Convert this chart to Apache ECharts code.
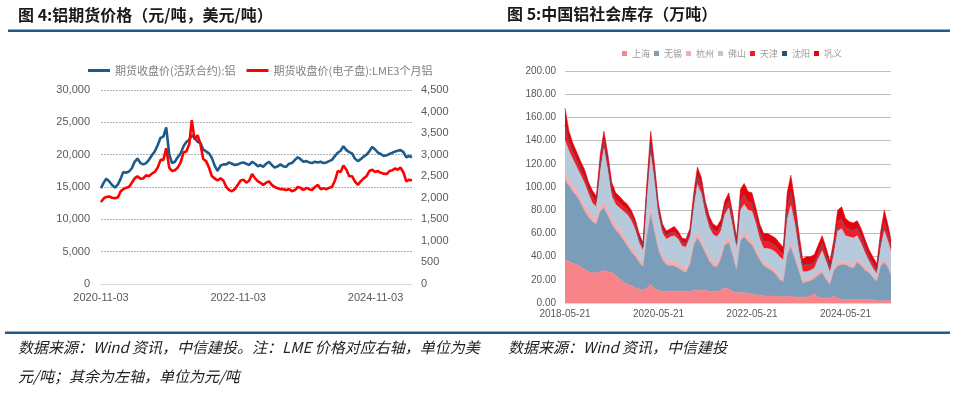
<!DOCTYPE html>
<html><head><meta charset="utf-8">
<script src="https://cdn.jsdelivr.net/npm/echarts@6/dist/echarts.min.js"></script>
<style>html,body{margin:0;padding:0;background:#fff}#c{width:960px;height:393px}</style>
</head><body><div id="c"></div>
<script>
// ---------- Figure 4: aluminium futures prices ----------
const priceDates = ['2020-11-03','2020-11-16','2020-12-01','2020-12-16',
'2021-01-01','2021-01-16','2021-02-01','2021-02-16','2021-03-01','2021-03-16','2021-04-01','2021-04-16','2021-05-01','2021-05-16','2021-06-01','2021-06-16','2021-07-01','2021-07-16','2021-08-01','2021-08-16','2021-09-01','2021-09-16','2021-10-01','2021-10-16','2021-11-01','2021-11-16','2021-12-01','2021-12-16',
'2022-01-01','2022-01-16','2022-02-01','2022-02-16','2022-03-01','2022-03-16','2022-04-01','2022-04-16','2022-05-01','2022-05-16','2022-06-01','2022-06-16','2022-07-01','2022-07-16','2022-08-01','2022-08-16','2022-09-01','2022-09-16','2022-10-01','2022-10-16','2022-11-01','2022-11-16','2022-12-01','2022-12-16',
'2023-01-01','2023-01-16','2023-02-01','2023-02-16','2023-03-01','2023-03-16','2023-04-01','2023-04-16','2023-05-01','2023-05-16','2023-06-01','2023-06-16','2023-07-01','2023-07-16','2023-08-01','2023-08-16','2023-09-01','2023-09-16','2023-10-01','2023-10-16','2023-11-01','2023-11-16','2023-12-01','2023-12-16',
'2024-01-01','2024-01-16','2024-02-01','2024-02-16','2024-03-01','2024-03-16','2024-04-01','2024-04-16','2024-05-01','2024-05-16','2024-06-01','2024-06-16','2024-07-01','2024-07-16','2024-08-01','2024-08-16','2024-09-01','2024-09-16','2024-10-01','2024-10-16','2024-11-01','2024-11-16','2024-12-01','2024-12-16',
'2025-01-01','2025-01-16','2025-02-01','2025-02-16','2025-03-01','2025-03-16','2025-04-01','2025-04-16','2025-05-01','2025-05-16'];
const shfeAl = [14800,15600,16300,15900,
15300,14900,15400,16300,17300,17200,17400,17900,18900,19400,18700,18500,18700,19200,19900,20500,21500,22600,22800,24200,20100,18700,18900,19600,
20200,21300,22000,22300,23000,22600,22000,21800,20800,20500,20200,19500,18300,17500,18300,18500,18500,18800,18600,18400,18500,18700,18800,18600,
18400,18900,18600,18200,18400,18100,18600,18900,18400,18000,18200,18500,18200,18100,18600,18700,19200,19600,19300,18900,19000,18800,18700,18900,
18800,18900,18700,18800,19000,19200,19800,20300,20600,21300,20700,20400,20200,19400,19000,19300,19700,20000,20500,21200,20800,20300,20100,19800,
19900,20100,20300,20500,20600,20700,20400,19600,19800,19600];
const lmeAl = [1900,1980,2020,2030,
2000,1990,2010,2150,2200,2230,2250,2350,2450,2500,2440,2450,2520,2500,2560,2600,2700,2880,2880,3150,2700,2620,2640,2700,
2820,3050,3080,3250,3800,3350,3450,3250,2900,2850,2700,2500,2450,2400,2450,2400,2250,2180,2150,2200,2300,2400,2420,2350,
2400,2550,2450,2380,2350,2300,2350,2380,2300,2250,2220,2200,2200,2180,2200,2150,2180,2250,2230,2180,2230,2200,2180,2250,
2300,2200,2220,2200,2230,2250,2400,2620,2600,2750,2650,2500,2500,2380,2300,2380,2450,2500,2620,2650,2600,2620,2580,2560,
2550,2620,2640,2680,2650,2700,2580,2380,2420,2400];
const priceTickDates = ['2020-11-03','2022-11-03','2024-11-03'];
const priceNames = ['期货收盘价(活跃合约):铝','期货收盘价(电子盘):LME3个月铝'];

// ---------- Figure 5: China aluminium social inventory ----------
const stockDates = ['2018-05-21','2018-06-21','2018-07-21','2018-08-21','2018-09-21','2018-10-21','2018-11-21','2018-12-21',
'2019-01-21','2019-02-21','2019-03-21','2019-04-21','2019-05-21','2019-06-21','2019-07-21','2019-08-21','2019-09-21','2019-10-21','2019-11-21','2019-12-21',
'2020-01-21','2020-02-21','2020-03-21','2020-04-21','2020-05-21','2020-06-21','2020-07-21','2020-08-21','2020-09-21','2020-10-21','2020-11-21','2020-12-21',
'2021-01-21','2021-02-21','2021-03-21','2021-04-21','2021-05-21','2021-06-21','2021-07-21','2021-08-21','2021-09-21','2021-10-21','2021-11-21','2021-12-21',
'2022-01-21','2022-02-21','2022-03-21','2022-04-21','2022-05-21','2022-06-21','2022-07-21','2022-08-21','2022-09-21','2022-10-21','2022-11-21','2022-12-21',
'2023-01-21','2023-02-21','2023-03-21','2023-04-21','2023-05-21','2023-06-21','2023-07-21','2023-08-21','2023-09-21','2023-10-21','2023-11-21','2023-12-21',
'2024-01-21','2024-02-21','2024-03-21','2024-04-21','2024-05-21','2024-06-21','2024-07-21','2024-08-21','2024-09-21','2024-10-21','2024-11-21','2024-12-21',
'2025-01-21','2025-02-21','2025-03-21','2025-04-21','2025-05-12'];
const shanghai = [37,36,34,33,31,29,27,26,26,
27,28,27,26,24,21,18,16,15,13,12,11,
13,16,12,11,10,10,10,10,10,10,10,10,
11,11,11,11,10,10,10,11,13,12,10,9,
9,9,8,8,7,7,6,6,6,6,6,5,
6,6,5,5,5,5,6,8,5,4,4,4,
6,4,3,3,3,3,3,3,3,3,3,2,
2,2,2,2];
const wuxi = [69,65,62,59,55,50,47,44,42,
52,54,48,42,39,38,36,33,29,27,23,20,
45,60,48,34,27,23,22,22,20,18,16,23,
39,45,39,32,26,22,21,27,37,40,31,19,
45,48,45,42,36,30,26,24,22,19,14,13,
36,42,33,23,12,13,13,13,19,22,16,12,
22,28,30,30,28,27,32,29,25,23,19,16,
30,33,28,21];
const hangzhou = [6,6,6,5,5,5,5,5,5,
5,5,5,5,5,5,5,4,4,4,4,4,
5,6,5,4,4,4,4,4,4,4,4,4,
4,5,4,4,4,4,4,4,4,4,4,3,
4,4,4,4,4,3,3,3,3,3,3,3,
3,4,3,3,3,3,3,3,3,3,3,2,
3,3,3,3,3,3,3,3,3,3,2,2,
3,3,3,3];
const foshan = [28,24,22,20,19,19,15,11,10,
30,46,34,19,17,18,20,23,23,19,13,10,
29,46,39,26,19,18,21,22,21,17,18,19,
28,41,40,30,25,23,22,20,22,26,21,16,
22,24,23,25,21,15,12,14,15,16,17,16,
27,32,27,15,7,6,6,6,11,16,13,8,
11,27,28,22,23,23,20,16,12,7,6,5,
13,24,19,18];
const tianjin = [13,8,6,6,5,5,4,5,4,
6,7,6,5,4,4,4,4,4,4,3,3,
6,9,6,4,3,3,3,3,3,3,3,3,
6,7,6,5,4,4,4,4,5,6,5,4,
8,8,7,7,6,6,6,6,5,5,5,5,
10,12,9,7,5,6,5,5,5,6,5,4,
6,8,8,7,6,6,6,6,5,4,4,4,
6,8,6,4];
const shenyang = [0.6,0.5,0.5,0.5,0.5,0.5,0.5,0.5,0.5,
0.5,0.6,0.5,0.5,0.5,0.5,0.5,0.5,0.5,0.5,0.5,0.4,
0.5,0.6,0.5,0.5,0.5,0.5,0.5,0.5,0.5,0.5,0.5,0.5,
0.5,0.6,0.5,0.5,0.5,0.5,0.5,0.5,0.5,0.5,0.5,0.4,
0.5,0.6,0.5,0.5,0.5,0.5,0.5,0.5,0.5,0.5,0.5,0.4,
0.5,0.6,0.5,0.5,0.4,0.4,0.4,0.4,0.4,0.5,0.4,0.4,
0.5,0.5,0.5,0.5,0.5,0.5,0.5,0.5,0.4,0.4,0.4,0.4,
0.5,0.5,0.5,0.4];
const gongyi = [14.5,8.5,7.5,6.5,6.5,6.5,5.5,5.5,4.5,
7.5,7.5,7.5,6.5,5.5,5.5,4.5,4.5,4.5,4.5,4.5,3.5,
6.5,10.5,7.5,5.5,4.5,3.5,3.5,4.5,3.5,3.5,3.5,4.5,
6.5,7.5,7.5,5.5,5.5,4.5,4.5,5.5,6.5,6.5,6.5,4.5,
9.5,9.5,8.5,8.5,7.5,6.5,6.5,6.5,6.5,6.5,6.5,5.5,
12.5,13.5,10.5,8.5,5.5,6.5,6.5,6.5,6.5,6.5,6.5,5.5,
6.5,9.5,10.5,7.5,6.5,6.5,6.5,6.5,6.5,5.5,5.5,4.5,
7.5,9.5,7.5,5.5];
const stockNames = ['上海','无锡','杭州','佛山','天津','沈阳','巩义'];
const stockColors = ['#F8848A','#7A9DBA','#F4AEB0','#B6CADB','#F41C22','#24557F','#E8000C'];
const stockTickDates = ['2018-05-21','2020-05-21','2022-05-21','2024-05-21'];

// ---------- texts ----------
const title4 = '图 4:铝期货价格（元/吨，美元/吨）';
const title5 = '图 5:中国铝社会库存（万吨）';
const note1 = '数据来源：Wind 资讯，中信建投。注：LME 价格对应右轴，单位为美';
const note2 = '元/吨；其余为左轴，单位为元/吨';
const note3 = '数据来源：Wind 资讯，中信建投';

const CJK = '"Noto Sans CJK SC", sans-serif';
const NUM = '"Liberation Sans", Arial, sans-serif';
const toTs = s => { const p = s.split('-').map(Number); return Date.UTC(p[0], p[1]-1, p[2]); };
const pad = n => (n < 10 ? '0' : '') + n;
const fmtDate = v => { const d = new Date(v); return d.getUTCFullYear() + '-' + pad(d.getUTCMonth()+1) + '-' + pad(d.getUTCDate()); };
const fmtComma = v => v.toLocaleString('en-US');
const zip = (xs, ys) => xs.map((x, i) => [toTs(x), ys[i]]);

const stockSeries = [shanghai, wuxi, hangzhou, foshan, tianjin, shenyang, gongyi].map((arr, i) => ({
  name: stockNames[i], type: 'line', stack: 'stock', xAxisIndex: 1, yAxisIndex: 2,
  symbol: 'none', smooth: false,
  lineStyle: { width: 0.6, color: stockColors[i] },
  areaStyle: { color: stockColors[i], opacity: 1 },
  itemStyle: { color: stockColors[i] },
  data: zip(stockDates, arr)
}));

const stockMin = toTs(stockDates[0]), stockMax = toTs(stockDates[stockDates.length-1]);

const chart = echarts.init(document.getElementById('c'), null, { renderer: 'canvas' });
chart.setOption({
  animation: false,
  backgroundColor: '#fff',
  graphic: [
    { type: 'text', left: 18, top: 7, style: { text: title4, font: 'bold 16px ' + CJK, fill: '#1a1a1a' } },
    { type: 'text', left: 507, top: 6, style: { text: title5, font: 'bold 16px ' + CJK, fill: '#1a1a1a' } },
    { type: 'rect', shape: { x: 8, y: 29.5, width: 942, height: 2.5 }, style: { fill: '#1F5A8C' } },
    { type: 'rect', shape: { x: 5, y: 331.5, width: 945, height: 2.5 }, style: { fill: '#1F5A8C' } },
    { type: 'text', left: 18, top: 340, style: { text: note1, font: 'italic 15px ' + CJK, fill: '#222' } },
    { type: 'text', left: 18, top: 369, style: { text: note2, font: 'italic 15px ' + CJK, fill: '#222' } },
    { type: 'text', left: 508, top: 340, style: { text: note3, font: 'italic 15px ' + CJK, fill: '#222' } }
  ],
  legend: [
    { data: priceNames, left: 83, top: 60, icon: 'rect', itemWidth: 22, itemHeight: 3, itemGap: 11,
      textStyle: { fontFamily: CJK, fontSize: 11, color: '#808080' } },
    { data: stockNames, left: 617, top: 44, icon: 'rect', itemWidth: 5, itemHeight: 5, itemGap: 4,
      textStyle: { fontFamily: CJK, fontSize: 9, color: '#9a9a9a' } }
  ],
  grid: [
    { left: 101, right: 548, top: 90, bottom: 109 },
    { left: 565, right: 69, top: 71, bottom: 90 }
  ],
  xAxis: [
    { type: 'value', gridIndex: 0, min: toTs(priceDates[0]), max: toTs(priceDates[priceDates.length-1]),
      axisLine: { lineStyle: { color: '#d9d9d9' } }, axisTick: { show: false }, splitLine: { show: false },
      axisLabel: { customValues: priceTickDates.map(toTs), formatter: fmtDate, margin: 8,
        fontFamily: NUM, fontSize: 11, color: '#595959' } },
    { type: 'time', gridIndex: 1, min: stockMin, max: stockMax, position: 'bottom',
      axisLine: { lineStyle: { color: '#d9d9d9' } }, axisTick: { show: false }, splitLine: { show: false },
      axisLabel: { show: false } },
    { type: 'value', gridIndex: 1, min: stockMin, max: stockMax, position: 'bottom', offset: 0,
      axisLine: { show: false }, axisTick: { show: false }, splitLine: { show: false },
      axisLabel: { customValues: stockTickDates.map(toTs), formatter: fmtDate, margin: 6,
        fontFamily: NUM, fontSize: 10, color: '#595959' } }
  ],
  yAxis: [
    { type: 'value', gridIndex: 0, min: 0, max: 30000, interval: 5000,
      axisLine: { show: false }, axisTick: { show: false },
      splitLine: { lineStyle: { color: '#b0b0b0', type: [2, 1] } },
      axisLabel: { formatter: fmtComma, margin: 11, fontFamily: NUM, fontSize: 11, color: '#595959' } },
    { type: 'value', gridIndex: 0, position: 'right', min: 0, max: 4500, interval: 500,
      axisLine: { show: false }, axisTick: { show: false }, splitLine: { show: false },
      axisLabel: { formatter: fmtComma, margin: 9, fontFamily: NUM, fontSize: 11, color: '#595959' } },
    { type: 'value', gridIndex: 1, min: 0, max: 200, interval: 20,
      axisLine: { show: false }, axisTick: { show: false },
      splitLine: { lineStyle: { color: '#bfbfbf', width: 1 } },
      axisLabel: { formatter: v => v.toFixed(2), margin: 9, fontFamily: NUM, fontSize: 10, color: '#595959' } }
  ],
  series: [
    { name: priceNames[0], type: 'line', xAxisIndex: 0, yAxisIndex: 0, symbol: 'none',
      lineStyle: { width: 2.6, color: '#1C5C8C' }, itemStyle: { color: '#1C5C8C' },
      data: zip(priceDates, shfeAl) },
    { name: priceNames[1], type: 'line', xAxisIndex: 0, yAxisIndex: 1, symbol: 'none',
      lineStyle: { width: 2.6, color: '#FF0000' }, itemStyle: { color: '#FF0000' },
      data: zip(priceDates, lmeAl) }
  ].concat(stockSeries)
});
</script>
</body></html>
